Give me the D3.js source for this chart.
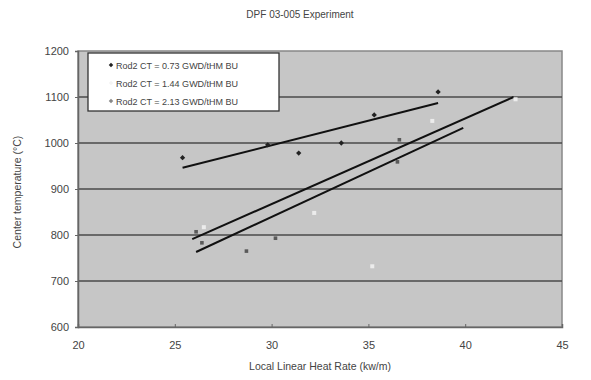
<!DOCTYPE html>
<html>
<head>
<meta charset="utf-8">
<script src="https://cdn.jsdelivr.net/npm/d3@7"></script>
<style>
  body { margin: 0; background: #fff; }
  text { font-family: Arial, "Liberation Sans", sans-serif; fill: #444; }
</style>
</head>
<body>
<div id="chart"></div>
<script>
// Data
var seriesNames = ['Rod2 CT = 0.73 GWD/tHM BU', 'Rod2 CT = 1.44 GWD/tHM BU', 'Rod2 CT = 2.13 GWD/tHM BU'];

var rate1 = [25.4, 29.8, 31.4, 33.6, 35.3, 38.6];
var temp1 = [968, 996, 978, 1000, 1061, 1111];

var rate2 = [26.5, 32.2, 35.2, 38.3, 42.6];
var temp2 = [817, 848, 732, 1048, 1095];

var rate3 = [26.1, 26.4, 28.7, 30.2, 36.5, 36.6];
var temp3 = [807, 783, 765, 793, 959, 1007];

// trend line end points
var trendRate1 = [25.4, 38.6];
var trendTemp1 = [946, 1087];
var trendRate2 = [25.9, 42.5];
var trendTemp2 = [791, 1100];
var trendRate3 = [26.1, 39.9];
var trendTemp3 = [763, 1033];

var xTicks = [20, 25, 30, 35, 40, 45];
var yTicks = [600, 700, 800, 900, 1000, 1100, 1200];

// Create SVG Element
var chartWidth = 591;
var chartHeight = 380;
var svg = d3.select('#chart')
    .append('svg')
    .attr('width', chartWidth)
    .attr('height', chartHeight);

var plot = {left: 78, right: 562, top: 51, bottom: 327};

// Create Scale
var scaleX = d3.scaleLinear()
    .domain([20, 45])
    .range([plot.left, plot.right]);

var scaleY = d3.scaleLinear()
    .domain([600, 1200])
    .range([plot.bottom, plot.top]);

// Plot background
svg.append('rect')
    .attr('x', plot.left)
    .attr('y', plot.top)
    .attr('width', plot.right - plot.left)
    .attr('height', plot.bottom - plot.top)
    .attr('fill', '#c6c6c6')
    .attr('stroke', '#888')
    .attr('stroke-width', 1.5);

// Gridlines
svg.selectAll('line.grid')
    .data(yTicks.slice(1, -1))
    .enter()
    .append('line')
    .attr('class', 'grid')
    .attr('x1', plot.left)
    .attr('x2', plot.right)
    .attr('y1', function(d) { return scaleY(d); })
    .attr('y2', function(d) { return scaleY(d); })
    .attr('stroke', '#4a4a4a')
    .attr('stroke-width', 1.6);

// Axes
var xAxis = svg.append('g')
    .attr('transform', 'translate(0,' + plot.bottom + ')')
    .call(d3.axisBottom(scaleX).tickValues(xTicks).tickSize(-3).tickPadding(14).tickFormat(d3.format('d')));
var yAxis = svg.append('g')
    .attr('transform', 'translate(' + plot.left + ',0)')
    .call(d3.axisLeft(scaleY).tickValues(yTicks).tickSize(3).tickPadding(6).tickFormat(d3.format('d')));

[xAxis, yAxis].forEach(function(ax) {
  ax.select('.domain').attr('stroke', '#666').attr('stroke-width', 1.5);
  ax.selectAll('.tick line').attr('stroke', '#666');
  ax.selectAll('.tick text')
      .attr('font-size', 11)
      .attr('fill', '#555')
      .attr('font-family', 'Arial, "Liberation Sans", sans-serif');
});

// Trend lines
var trends = [
  {r: trendRate1, t: trendTemp1},
  {r: trendRate2, t: trendTemp2},
  {r: trendRate3, t: trendTemp3}
];
var line = d3.line()
    .x(function(d) { return scaleX(d[0]); })
    .y(function(d) { return scaleY(d[1]); });

svg.selectAll('path.trend')
    .data(trends)
    .enter()
    .append('path')
    .attr('class', 'trend')
    .attr('d', function(d) { return line(d3.zip(d.r, d.t)); })
    .attr('fill', 'none')
    .attr('stroke', '#111')
    .attr('stroke-width', 2);

// Points
var dot = d3.symbol().type(d3.symbolSquare).size(14);
svg.selectAll('path.s1')
    .data(d3.zip(rate1, temp1))
    .enter()
    .append('path')
    .attr('class', 's1')
    .attr('d', dot)
    .attr('transform', function(d) {
      return 'translate(' + scaleX(d[0]) + ',' + scaleY(d[1]) + ') rotate(45)';
    })
    .attr('fill', '#222');

svg.selectAll('rect.s2')
    .data(d3.zip(rate2, temp2))
    .enter()
    .append('rect')
    .attr('class', 's2')
    .attr('x', function(d) { return scaleX(d[0]) - 2; })
    .attr('y', function(d) { return scaleY(d[1]) - 2; })
    .attr('width', 4)
    .attr('height', 4)
    .attr('fill', '#ececec');

svg.selectAll('rect.s3')
    .data(d3.zip(rate3, temp3))
    .enter()
    .append('rect')
    .attr('class', 's3')
    .attr('x', function(d) { return scaleX(d[0]) - 1.8; })
    .attr('y', function(d) { return scaleY(d[1]) - 1.8; })
    .attr('width', 3.6)
    .attr('height', 3.6)
    .attr('fill', '#5a5a5a');

// Legend
var legend = svg.append('g').attr('transform', 'translate(88,53)');
legend.append('rect')
    .attr('width', 191)
    .attr('height', 58)
    .attr('fill', '#fff')
    .attr('stroke', '#333')
    .attr('stroke-width', 1.3);

var legendFill = ['#222', '#f4f4f4', '#888'];
var item = legend.selectAll('g.item')
    .data(seriesNames)
    .enter()
    .append('g')
    .attr('class', 'item')
    .attr('transform', function(d, i) { return 'translate(0,' + (12 + i * 18) + ')'; });
item.append('path')
    .attr('d', d3.symbol().type(d3.symbolSquare).size(10))
    .attr('transform', 'translate(23,0) rotate(45)')
    .attr('fill', function(d, i) { return legendFill[i]; });
item.append('text')
    .attr('x', 28)
    .attr('y', 3.5)
    .attr('font-size', 9)
    .attr('fill', '#555')
    .text(function(d) { return d; });

// Title and axis labels
svg.append('text')
    .attr('x', 300)
    .attr('y', 18)
    .attr('text-anchor', 'middle')
    .attr('font-size', 10)
    .text('DPF 03-005 Experiment');

svg.append('text')
    .attr('x', 320)
    .attr('y', 370)
    .attr('text-anchor', 'middle')
    .attr('font-size', 10.5)
    .text('Local Linear Heat Rate (kw/m)');

svg.append('text')
    .attr('transform', 'translate(21,' + ((plot.top + plot.bottom) / 2 + 3) + ') rotate(-90)')
    .attr('text-anchor', 'middle')
    .attr('font-size', 10.5)
    .text('Center temperature (\u00B0C)');
</script>
</body>
</html>
